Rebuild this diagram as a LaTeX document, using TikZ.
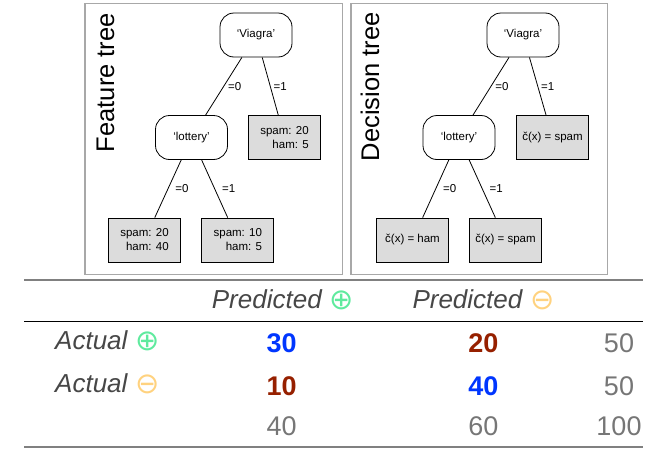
\documentclass[tikz,border=0pt]{standalone}
\usepackage{fontspec}
\setmainfont{Liberation Sans}
\newfontfamily\symfont{DejaVu Sans}
\definecolor{framegray}{HTML}{A8A8A8}
\definecolor{leafgray}{HTML}{DCDCDC}
\definecolor{rulegray}{HTML}{808080}
\definecolor{labgray}{HTML}{474747}
\definecolor{numgray}{HTML}{767676}
\definecolor{numblue}{HTML}{0036FF}
\definecolor{numred}{HTML}{962000}
\definecolor{plusgreen}{HTML}{5FEA9E}
\definecolor{minusorange}{HTML}{FFD27F}
\newcommand{\nodefont}{\fontsize{11.5}{14}\selectfont}
\newcommand{\titlefont}{\fontsize{25.5}{30}\selectfont}
\newcommand{\labfont}{\fontsize{26}{30}\selectfont\itshape}
\newcommand{\numfont}{\fontsize{27}{30}\selectfont}
\newcommand{\numboldfont}{\fontsize{27}{30}\selectfont\bfseries}
\newcommand{\symbfont}{\symfont\fontsize{29}{32}\selectfont}
\tikzset{
  tnode/.style={draw, line width=0.8pt, rounded corners=14pt, fill=white,
    minimum width=72pt, minimum height=44pt, inner sep=0pt, font=\nodefont},
  leaf/.style={draw, line width=0.8pt, fill=leafgray, minimum width=72pt,
    minimum height=44pt, inner sep=0pt, font=\nodefont, align=right},
  edgeline/.style={line width=0.8pt},
  elab/.style={midway, anchor=west, inner sep=0pt, font=\nodefont},
  panelframe/.style={draw=framegray, line width=1.2pt},
  title/.style={rotate=90, anchor=base east, inner sep=0pt, font=\titlefont},
  toprule/.style={draw=rulegray, line width=2pt},
  midrule/.style={draw=black, line width=1pt},
  lab/.style={anchor=base west, inner sep=0pt, font=\labfont, text=labgray},
  num/.style={anchor=base, inner sep=0pt, font=\numfont, text=numgray},
  numb/.style={anchor=base, inner sep=0pt, font=\numboldfont},
  sym/.style={anchor=center, inner sep=0pt, font=\symbfont},
}
\begin{document}
\begin{tikzpicture}[x=1pt,y=-1pt]
\useasboundingbox (0,0) rectangle (659,458);
% panels
\draw[panelframe] (85,3.5) rectangle (342.5,274.5);
\draw[panelframe] (351,3.5) rectangle (607.5,274.5);
\node[title] (ft) at (114,13) {Feature tree};
\node[title] (dt) at (379,12) {Decision tree};
% feature tree
\node[tnode] (fv) at (256,35) {‘Viagra’};
\node[tnode] (fl) at (191.5,137.5) {‘lottery’};
\node[leaf] (fr) at (284.5,137.5) {spam: 20\\ham: 5};
\node[leaf] (fll) at (144.5,240) {spam: 20\\ham: 40};
\node[leaf] (flr) at (237.8,240) {spam: 10\\ham: 5};
\draw[edgeline] (fv) -- node[elab, xshift=4pt] {=0} (fl);
\draw[edgeline] (fv) -- node[elab, xshift=3pt] {=1} (fr);
\draw[edgeline] (fl) -- node[elab, xshift=7pt] {=0} (fll);
\draw[edgeline] (fl) -- node[elab, xshift=7pt] {=1} (flr);
% decision tree
\node[tnode] (dv) at (523,35) {‘Viagra’};
\node[tnode] (dl) at (459,137.5) {‘lottery’};
\node[leaf] (dr) at (552.5,137.5) {č(x) = spam};
\node[leaf] (dll) at (412.5,240) {č(x) = ham};
\node[leaf] (dlr) at (505.5,240) {č(x) = spam};
\draw[edgeline] (dv) -- node[elab, xshift=4pt] {=0} (dl);
\draw[edgeline] (dv) -- node[elab, xshift=3pt] {=1} (dr);
\draw[edgeline] (dl) -- node[elab, xshift=7pt] {=0} (dll);
\draw[edgeline] (dl) -- node[elab, xshift=7pt] {=1} (dlr);
% table rules
\draw[toprule] (24,280) -- (643,280);
\draw[midrule] (24,321.7) -- (643,321.7);
\draw[toprule] (24,446.7) -- (643,446.7);
% header
\node[lab] (p1) at (211.7,308.3) {Predicted};
\node[sym, text=plusgreen] (p1s) at (341.7,300.5) {⊕};
\node[lab] (p2) at (412.3,308.3) {Predicted};
\node[sym, text=minusorange] (p2s) at (542.3,300.5) {⊖};
% row labels
\node[lab] (a1) at (55,349.5) {Actual};
\node[sym, text=plusgreen] (a1s) at (148,341) {⊕};
\node[lab] (a2) at (55,392.7) {Actual};
\node[sym, text=minusorange] (a2s) at (147.5,384) {⊖};
% numbers
\node[numb, text=numblue] (n11) at (281.7,352.7) {30};
\node[numb, text=numred] (n12) at (483.3,352.7) {20};
\node[num] (n13) at (619,352.7) {50};
\node[numb, text=numred] (n21) at (281.7,395) {10};
\node[numb, text=numblue] (n22) at (483.3,395) {40};
\node[num] (n23) at (619,395) {50};
\node[num] (n31) at (281.7,435.5) {40};
\node[num] (n32) at (483.3,435.5) {60};
\node[num] (n33) at (619,435.5) {100};
\end{tikzpicture}
\end{document}
